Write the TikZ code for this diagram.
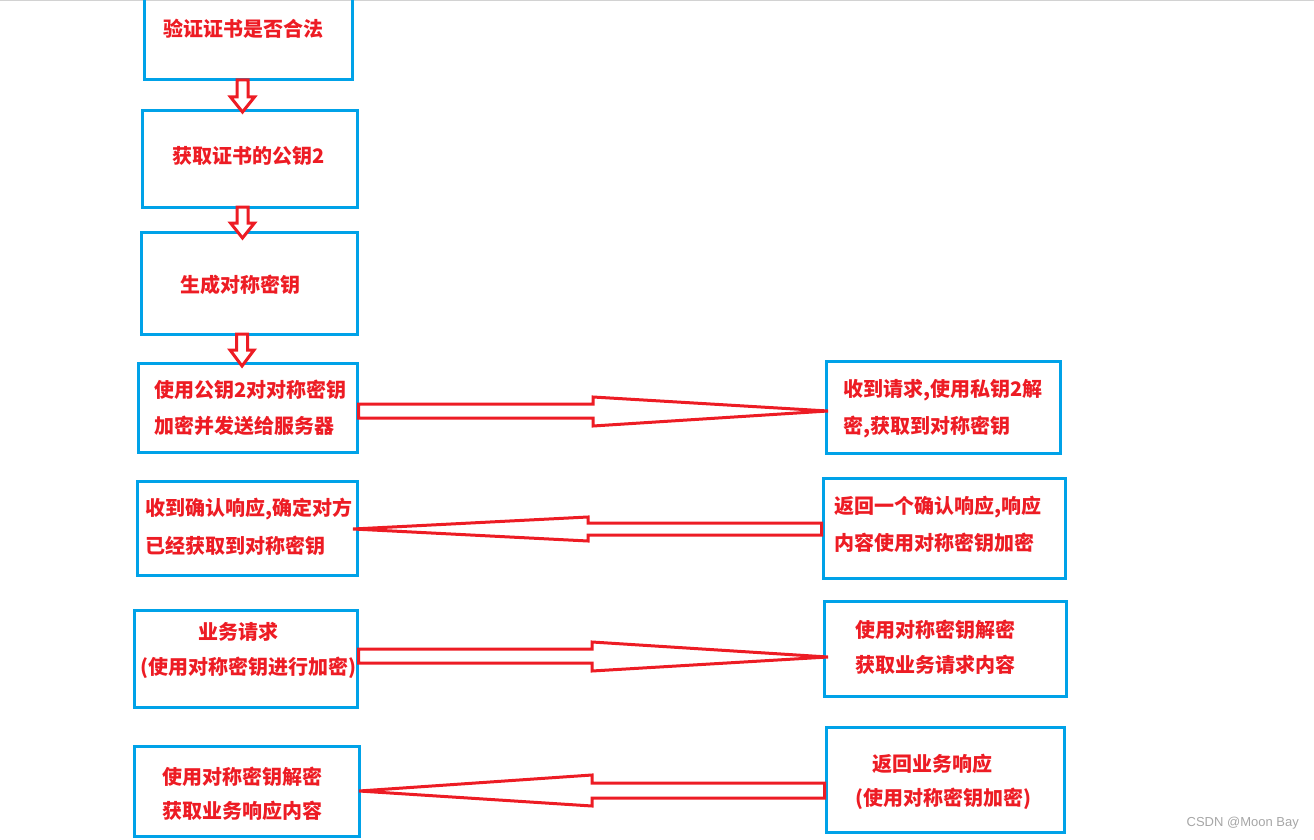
\documentclass[tikz,border=0pt]{standalone}
\usepackage{fontspec}
\newfontfamily\cjk{Noto Sans CJK SC}
\newfontfamily\wm{Liberation Sans}
\definecolor{boxblue}{HTML}{00A2E8}
\definecolor{arred}{HTML}{ED1C24}
\begin{document}
\begin{tikzpicture}[x=1pt,y=-1pt,
  box/.style={draw=boxblue,line width=3pt,inner sep=0pt},
  txt/.style={text=arred,font=\cjk\bfseries\fontsize{20}{22}\selectfont,inner sep=0pt,anchor=west},
  arr/.style={draw=arred,line width=3pt,fill=white,line join=miter}]
\useasboundingbox (0,0) rectangle (1314,840);
\draw[gray!35,line width=1.5pt] (0,0.75) -- (1314,0.75);
% boxes
\node[box,minimum width=208pt,minimum height=90pt] (b1) at (248,35) {};
\node[box,minimum width=215pt,minimum height=96pt] (b2) at (249.5,159) {};
\node[box,minimum width=216pt,minimum height=102pt] (b3) at (249,283) {};
\node[box,minimum width=219pt,minimum height=89pt] (b4) at (247.5,407.5) {};
\node[box,minimum width=234pt,minimum height=92pt] (r4) at (943,407) {};
\node[box,minimum width=220pt,minimum height=94pt] (b5) at (247,528) {};
\node[box,minimum width=242pt,minimum height=100pt] (r5) at (944,528) {};
\node[box,minimum width=223pt,minimum height=97pt] (b6) at (245.5,658.5) {};
\node[box,minimum width=242pt,minimum height=95pt] (r6) at (945,648.5) {};
\node[box,minimum width=225pt,minimum height=90pt] (b7) at (246.5,791) {};
\node[box,minimum width=238pt,minimum height=105pt] (r7) at (945,779.5) {};
% texts
\node[txt] (t1) at (163,29) {验证证书是否合法};
\node[txt] (t2) at (172,156) {获取证书的公钥2};
\node[txt] (t3) at (180,285) {生成对称密钥};
\node[txt] (t4a) at (154,390) {使用公钥2对对称密钥};
\node[txt] (t4b) at (154,426) {加密并发送给服务器};
\node[txt] (s4a) at (843,390) {收到请求,使用私钥2解};
\node[txt] (s4b) at (843,427) {密,获取到对称密钥};
\node[txt] (t5a) at (145,509) {收到确认响应,确定对方};
\node[txt] (t5b) at (145,546) {已经获取到对称密钥};
\node[txt] (s5a) at (834,507) {返回一个确认响应,响应};
\node[txt] (s5b) at (834,543) {内容使用对称密钥加密};
\node[txt,anchor=center] (t6a) at (238,632) {业务请求};
\node[txt] (t6b) at (140,668) {(使用对称密钥进行加密)};
\node[txt] (s6a) at (855,630) {使用对称密钥解密};
\node[txt] (s6b) at (855,665) {获取业务请求内容};
\node[txt] (t7a) at (162,777) {使用对称密钥解密};
\node[txt] (t7b) at (162,811) {获取业务响应内容};
\node[txt] (s7a) at (872,764) {返回业务响应};
\node[txt] (s7b) at (855,799) {(使用对称密钥加密)};
% small down arrows
\newcommand{\downarr}[4]{%
  \draw[arr] (#1-5.5,#2) -- (#1+5.5,#2) -- (#1+5.5,#3) -- (#1+12,#3) -- (#1,#4) -- (#1-12,#3) -- (#1-5.5,#3) -- cycle;}
\downarr{242.5}{80}{97}{112}
\downarr{242.5}{207}{223}{238}
\downarr{242}{334}{350}{366}
% big arrows
\draw[arr] (b4.east |- 0,404) -- (593,404) -- (593,397) -- (828,411) -- (593,426) -- (593,418) -- (b4.east |- 0,418) -- cycle;
\draw[arr] (r5.west |- 0,523) -- (588,523) -- (588,517) -- (353,529) -- (588,541) -- (588,535) -- (r5.west |- 0,535) -- cycle;
\draw[arr] (b6.east |- 0,649) -- (592,649) -- (592,642) -- (828,657) -- (592,671) -- (592,663) -- (b6.east |- 0,663) -- cycle;
\draw[arr] (r7.west |- 0,783) -- (592,783) -- (592,775) -- (359,791) -- (592,806) -- (592,798) -- (r7.west |- 0,798) -- cycle;
\node[text=gray!70,font=\wm\fontsize{13}{15}\selectfont,anchor=east,inner sep=0pt] (wm) at (1299,823) {CSDN @Moon Bay};
\end{tikzpicture}
\end{document}
